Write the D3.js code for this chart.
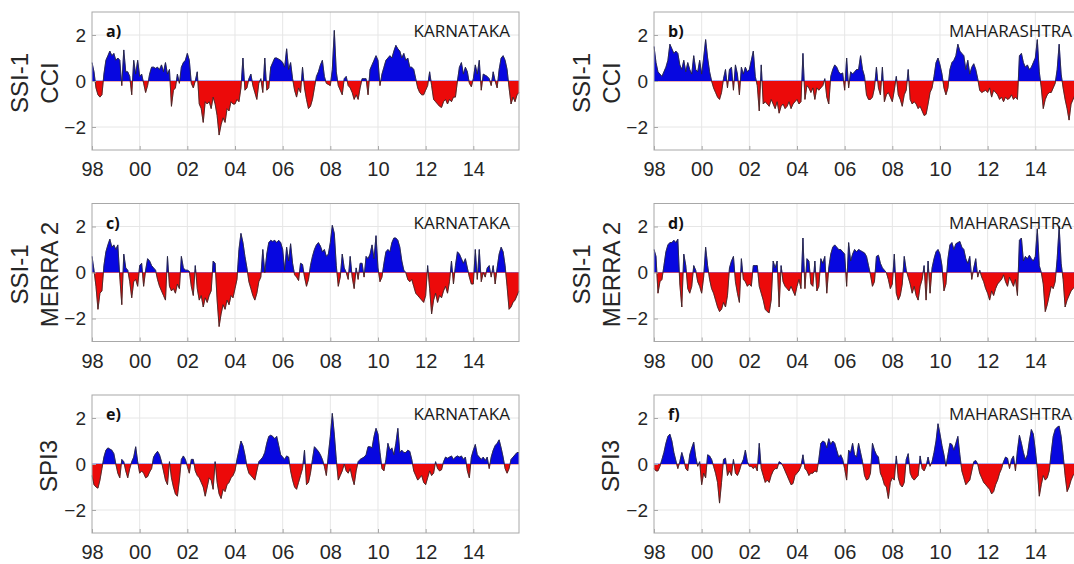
<!DOCTYPE html>
<html>
<head>
<meta charset="utf-8">
<script src="https://cdn.jsdelivr.net/npm/d3@7/dist/d3.min.js"></script>
<style>
  body { margin: 0; background: #fff; overflow: hidden; }
  svg { display: block; }
</style>
</head>
<body>
<svg id="chart" width="1074" height="564"></svg>
<script>
// Monthly drought indices, Jan 1998 – Dec 2015 (12 values per row = one year)
const startYear = 1998;
const xTickYears = [1998, 2000, 2002, 2004, 2006, 2008, 2010, 2012, 2014];
const xTickLabels = ["98", "00", "02", "04", "06", "08", "10", "12", "14"];
const yTicks = [-2, 0, 2];
const yTickLabels = ["\u22122", "0", "2"];
const regions = ["KARNATAKA", "MAHARASHTRA"];
const panelLetters = ["a)", "b)", "c)", "d)", "e)", "f)"];
const indexLabels = [["SSI-1", "CCI"], ["SSI-1", "MERRA 2"], ["SPI3"]];

const ssiCciKarnataka = [
  0.8, 0.4, -0.3, -0.6, -0.7, -0.6, 0.3, 0.9, 1.1, 1.3, 1.1, 1.2,
  0.9, 1.0, 0.9, -0.2, 1.35, 0.4, 0.4, 0.2, -0.6, 0.9, 0.3, 0.9,
  0.2, 0.3, -0.1, -0.5, -0.2, 0.3, 0.6, 0.6, 0.55, 0.6, 0.5, 0.7,
  0.4, 0.8, 0.3, 0.5, -1.1, -0.4, -0.3, 0.3, -0.1, 0.6, 0.8, 0.9,
  1.2, 0.9, -0.1, -0.3, 0.0, 0.4, -1.0, -1.2, -1.8, -0.9, -1.0, -0.9,
  -1.2, -0.7, -1.0, -1.5, -2.35, -1.9, -1.6, -1.8, -1.2, -1.3, -0.9, -1.0,
  -1.0, -0.8, -0.9, -0.3, 1.0, -0.4, -0.3, 0.1, 0.3, -0.2, -0.5, -0.8,
  -0.1, 0.1, -0.5, 1.0, -0.4, -0.3, 0.6, 0.8, 1.0, 1.0, 0.95, 0.9,
  0.8, 0.6, 1.4, 0.5, 0.8, 0.1, -0.4, -0.7, -0.3, -0.5, 0.6, -0.3,
  -0.8, -1.2, -1.1, -0.8, -0.3, 0.2, 0.4, 0.7, 0.9, 0.2, -0.1, -0.15,
  -0.2, 0.5, 2.2, 0.4, -0.2, -0.4, -0.6, 0.1, 0.2, -0.2, -0.3, -0.5,
  -0.8, -0.6, -0.8, -0.3, 0.1, 0.1, 0.1, -0.6, 0.5, 0.7, 0.9, 1.1,
  0.9, -0.2, 0.3, 0.6, 0.9, 1.0, 1.1, 1.0, 1.3, 1.55, 1.4, 1.3,
  1.0, 1.2, 0.9, 1.0, 0.6, 0.6, 0.5, 0.1, -0.3, -0.5, -0.6, -0.6,
  -0.4, -0.2, 0.4, -0.2, -0.8, -0.9, -1.0, -1.1, -1.15, -0.9, -0.8, -1.0,
  -0.8, -0.9, -0.7, -0.7, 0.0, 0.6, 0.8, 0.3, 0.6, 0.4, -0.1, -0.25,
  0.1, 0.7, 0.3, 0.9, -0.4, 0.3, 0.25, 0.2, 0.1, -0.2, 0.4, 0.0,
  -0.3, 0.5, 1.0, 1.1, 0.9, 0.5, -0.3, -1.0, -0.7, -0.9, -0.6, -0.5
];

const ssiCciMaharashtra = [
  1.5, 0.8, 0.4, 0.3, 0.2, 0.4, 0.6, 0.9, 1.6, 1.4, 1.2, 1.3,
  1.2, 0.7, 0.5, 0.9, 0.4, 0.8, 0.5, 0.3, 1.1, 0.5, 0.4, 0.9,
  0.3, 1.0, 1.8, 1.0, 0.4, 0.0, -0.3, -0.5, -0.7, -0.8, -0.5, 0.1,
  0.5, -0.3, 0.5, 0.6, -0.4, 0.7, 0.3, -0.6, 0.6, 0.3, 0.6, 0.4,
  0.5, 0.9, 1.3, 0.2, -0.2, -1.3, 0.7, -1.0, -0.9, -1.0, -1.1, -0.8,
  -1.0, -1.2, -0.9, -1.4, -1.1, -1.0, -1.2, -1.1, -0.9, -1.2, -1.0, -0.9,
  -0.8, -1.0, -0.9, 1.2, -0.8, -0.2, -0.3, -0.5, -0.3, -0.8, -0.3, -0.4,
  -0.3, -0.2, 0.1, -0.7, -1.0, 0.2, 0.5, 0.7, 0.6, 0.4, 0.3, 0.35,
  -0.4, 1.0, -0.3, 0.4, 0.3, 0.4, 0.5, 0.5, 1.1, 0.5, 0.2, -0.6,
  -0.8, -0.8, -0.7, -0.3, 0.6, -0.3, -0.6, 0.6, -0.9, -0.6, -0.5, -0.7,
  -0.9, -0.4, 0.2, -0.6, -0.8, -1.1, -0.6, -0.4, 0.5, -0.8, -1.0, -0.9,
  -1.0, -1.2, -1.1, -1.3, -1.5, -1.45, -1.0, -0.5, -0.3, 0.2, 0.8, 1.0,
  0.7, 0.3, -0.3, -0.6, -0.3, 0.5, 0.8, 0.9, 1.1, 1.6, 1.3, 1.2,
  1.1, 0.5, 0.9, 0.3, 0.6, 0.75, 0.5, 0.1, -0.4, -0.5, -0.45, -0.4,
  -0.5, -0.3, -0.7, -0.4, -0.5, -0.6, -0.8, -0.7, -0.9, -0.7, -0.8, -0.75,
  -0.6, -0.8, -0.7, -0.8, 1.1, 1.2, 0.8, 0.6, 0.7, 0.5, 0.6, 0.8,
  1.0, 1.8, 0.4, -0.3, -1.2, -0.8, -0.6, -0.5, -0.5, -0.3, -0.1, 0.5,
  1.6, 0.3, -0.3, -0.8, -1.2, -1.7, -1.0, -0.8, -0.6, -0.5, -0.4, -0.3
];

const ssiMerraKarnataka = [
  0.7, 0.1, -0.6, -1.6, -0.9, -0.8, 0.3, 0.9, 1.2, 1.45, 1.1, 1.2,
  1.0, 1.2, -0.2, -1.4, 0.8, 0.2, 0.1, -0.4, -1.1, -0.4, -0.3, -0.6,
  0.3, 0.4, -0.6, 0.1, 0.6, 0.5, 0.3, 0.2, 0.1, -0.3, -0.6, -0.8,
  -1.0, -1.2, 0.7, -0.6, -0.8, -0.7, -0.9, -0.5, -0.7, 0.7, 0.2, 0.1,
  0.1, 0.05, -0.6, -1.0, 0.3, -0.7, -1.2, -1.0, -1.5, -1.1, -1.3, -1.0,
  -0.8, 0.5, 0.4, -1.2, -2.35, -1.8, -1.4, -1.6, -1.2, -1.4, -1.0, -1.1,
  -0.7, -0.3, 1.0, 1.7, 1.3, 0.7, 0.2, -0.4, -0.7, -1.0, -1.2, -0.9,
  -0.4, -0.2, 1.0, 0.0, 0.8, 1.3, 1.4, 1.35, 1.4, 1.3, 1.4, 1.3,
  1.0, 0.1, 1.1, 0.5, 1.25, 0.4, -0.1, -0.2, -0.35, 0.4, 0.35, -0.2,
  -0.6, -0.3, 0.3, 0.7, 1.0, 1.2, 1.3, 1.15, 0.9, 1.0, 0.7, 0.8,
  1.3, 2.05, 1.7, 0.3, -0.6, -0.2, 0.8, 0.2, 0.0, -0.3, 0.7, -0.2,
  -0.7, 0.2, -0.3, 0.4, 0.4, -0.2, 0.7, 0.6, 0.8, 1.2, 0.6, 1.6,
  0.2, -0.4, -0.2, 0.4, 0.9, 1.0, 0.9, 1.3, 1.5, 1.5, 1.4, 1.1,
  0.5, 0.1, 0.0, -0.3, -0.4, -0.3, -0.6, -0.9, -1.0, -1.1, -1.2, -1.3,
  -1.0, 0.3, -0.7, -1.8, -1.2, -0.9, -1.3, -1.0, -1.1, -0.8, -0.6, -0.9,
  -0.4, 0.5, -0.5, 0.3, 0.9, 0.8, 0.6, 0.4, 0.6, 0.2, -0.2, -0.5,
  -0.5, 1.0, -0.3, 1.0, -0.4, 0.0, -0.2, 0.2, 0.3, -0.2, 0.3, -0.5,
  0.2, 0.8, 1.1, 0.9, 0.3, -0.6, -1.6, -1.5, -1.3, -1.2, -1.0, -0.8
];

const ssiMerraMaharashtra = [
  1.0, 0.7, -0.9, -0.4, -0.3, 0.3, 0.9, 1.2, 1.3, 1.3, 1.4, 1.3,
  1.45, -0.5, -1.5, 0.8, 0.3, -0.7, -0.9, -0.6, 0.3, 0.1, -0.4, -0.6,
  -0.9, -0.2, 1.1, 0.3, -0.3, -0.7, -0.9, -1.2, -1.5, -1.7, -1.6, -1.3,
  -1.5, -1.0, 0.2, 0.5, 0.7, -0.4, -0.9, -1.3, 0.6, -0.3, -0.4, -0.6,
  -0.5, -0.6, 0.3, 0.3, 0.3, -0.6, -0.9, -1.2, -1.6, -1.7, -1.75, -1.2,
  0.5, 0.2, 0.5, -1.5, 0.3, -0.4, -0.6, -0.7, -0.8, -0.6, -0.8, -1.0,
  -0.6, -0.3, -0.7, 1.5, -0.7, 0.6, 0.5, -0.5, -0.6, 0.5, -0.8, -0.6,
  0.6, 0.4, 0.7, -0.9, 0.2, 0.8, 1.1, 1.2, 1.1, 1.0, 1.0, 0.9,
  0.8, -0.6, 1.3, 0.5, 0.8, 1.0, 0.9, 1.0, 0.95, 0.9, 0.85, 0.7,
  0.3, -0.1, -0.6, -0.4, 0.7, 0.75, 0.4, 0.2, 0.1, 0.0, -0.3, -0.7,
  -0.5, 0.8, -0.9, -1.2, -1.0, -0.5, 0.7, 0.1, -0.2, -0.5, -0.9, -0.6,
  -1.0, -1.2, -0.6, -0.3, 0.3, -1.2, 0.5, -0.9, 0.2, 0.6, 0.9, 1.0,
  0.8, 0.3, -0.8, -0.5, 0.6, 1.2, 1.3, 1.0, 1.25, 1.3, 1.35, 1.1,
  1.0, 0.6, 0.4, 0.7, -0.3, 0.2, 0.6, -0.2, 0.1, -0.2, -0.4, -0.7,
  -0.9, -1.2, -0.8, -1.0, -0.7, -0.5, -0.4, -0.3, -0.1, -0.4, -0.6, -0.2,
  -0.4, -0.6, -0.3, -1.0, 1.4, 1.5, 0.5, 0.7, 0.6, 0.75, 0.6, 0.5,
  0.7, 1.9, 0.3, 0.0, -0.5, -1.7, -1.4, -1.0, -0.6, -0.7, -0.4, 0.6,
  2.0, 0.4, -0.3, -1.5, -1.2, -1.0, -0.8, -0.7, -0.6, -0.5, -0.4, -0.3
];

const spi3Karnataka = [
  -0.5, -0.9, -1.0, -1.05, -0.7, -0.2, 0.3, 0.6, 0.7, 0.65, 0.6, 0.45,
  0.0, -0.4, -0.6, 0.2, 0.1, -0.3, -0.6, -0.2, 0.1, 0.3, 0.75, 0.1,
  -0.4, -0.3, -0.4, -0.6, -0.55, -0.35, -0.2, 0.3, 0.45, 0.55, 0.4, 0.1,
  -0.3, -0.7, -0.9, 0.1, -0.6, -1.0, -1.3, -1.4, -0.7, 0.2, 0.35, 0.2,
  -0.1, -0.4, 0.2, 0.2, -0.3, -0.5, -0.6, -0.8, -1.0, -1.4, -1.0, -0.6,
  -0.7, -1.1, 0.1, -0.8, -1.3, -1.5, -1.1, -1.2, -0.9, -0.8, -0.6, -0.5,
  -0.3, 0.2, 0.6, 1.0, 0.8, 0.4, -0.1, -0.4, -0.5, -0.6, -0.7, -0.3,
  0.1, 0.2, 0.3, 0.5, 0.9, 1.2, 1.25, 1.2, 1.1, 1.2, 0.8, 0.4,
  0.3, 0.2, 0.35, 0.3, -0.3, -0.7, -1.0, -1.1, -0.8, -0.5, -0.2, 0.6,
  -0.9, -0.8, -0.4, 0.2, 0.75, 0.65, 0.55, 0.4, 0.2, -0.1, -0.5, 0.4,
  1.2, 2.2, 1.3, 0.2, -0.7, -0.5, -0.3, 0.0, -0.3, -0.4, -0.2, -0.6,
  -0.9, -0.3, 0.1, 0.2, 0.25, 0.3, 0.4, 0.75, 0.75, 0.7, 1.2, 1.55,
  1.3, 0.5, -0.2, -0.3, 0.2, 0.9, 0.6, 0.7, 0.4, 0.9, 1.55, 0.5,
  0.6, 0.5, 0.5, 0.6, 0.55, 0.2, -0.3, -0.5, -0.7, -0.6, -0.5, -0.8,
  -0.9, -0.6, -0.3, -0.5, -0.4, 0.1, -0.2, -0.3, -0.25, 0.1, 0.3, 0.25,
  0.3, 0.35, 0.2, 0.3, 0.35, 0.3, 0.35, 0.2, 0.3, -0.3, -0.6, 0.3,
  0.6, 0.85, 0.4, 0.3, 0.2, 0.3, 0.15, 0.3, -0.2, 0.3, 0.6, 0.8,
  0.9, 1.05, 0.7, 0.3, -0.2, -0.4, -0.2, 0.2, 0.3, 0.4, 0.5, 0.5
];

const spi3Maharashtra = [
  -0.2, -0.3, -0.3, -0.1, 0.2, 0.5, 0.9, 1.2, 1.3, 1.0, 0.5, 0.15,
  -0.2, 0.1, 0.5, 0.2, -0.2, -0.3, 0.4, 0.7, 0.95, 0.3, -0.1, 0.1,
  -0.9, -0.4, -0.6, 0.4, 0.35, 0.2, -0.1, -0.4, -0.8, -1.7, -0.8, 0.2,
  0.25, -0.5, -0.3, -0.5, 0.2, -0.4, -0.5, -0.3, 0.0, 0.2, 0.6, 0.1,
  -0.1, -0.1, -0.2, -0.1, -0.3, 0.9, -0.2, -0.5, -0.8, -0.7, -0.8, -0.5,
  -0.3, -0.2, -0.2, 0.1, 0.05, -0.1, -0.3, -0.5, -0.7, -0.9, -0.85, -0.5,
  -0.4, -0.3, -0.1, 0.4, -0.2, -0.3, -0.5, -0.4, -0.4, -0.3, -0.35, 0.2,
  0.9, 1.0, 0.95, 0.7, 1.1, 0.85, 1.0, 0.9, 0.6, 0.3, 0.4, 0.2,
  -0.2, -0.7, 0.6, 0.5, 0.9, 0.4, 0.3, 0.9, 0.5, 0.1, -0.5, -0.7,
  -0.65, -0.4, 0.9, 0.6, 0.4, 0.3, -0.4, -0.6, -0.9, -1.0, -1.5, -0.8,
  -0.6, -0.7, 0.35, -0.6, -0.9, -1.0, -0.8, 0.2, 0.45, -0.4, -0.6, -0.7,
  -0.6, -0.5, 0.35, -0.2, -0.3, -0.1, 0.3, -0.1, 0.1, 0.5, 1.0, 1.75,
  1.3, 0.8, 0.4, -0.1, 0.4, 0.9, 0.85, 0.6, 0.9, 1.2, 0.4, -0.3,
  -0.6, -0.9, -0.8, -0.7, -0.3, 0.1, 0.15, 0.0, -0.4, -0.6, -0.8, -0.9,
  -1.0, -1.1, -1.3, -1.2, -0.9, -0.7, -0.4, -0.2, 0.1, 0.3, 0.25, -0.2,
  0.2, 0.35, -0.3, 0.6, 1.25, 0.9, 0.5, 0.2, 0.4, 1.0, 1.5, 1.3,
  0.6, -0.2, -1.4, -0.9, -0.5, -0.7, -0.6, -0.3, 0.5, 1.2, 1.5, 1.6,
  1.65, 1.2, 0.4, -0.5, -1.2, -1.0, -0.7, -0.5, -0.4, -0.3, -0.2, -0.2
];

// ---- layout ----
const colLeft = [92, 654];
const rowTop = [12, 203.5, 395];
const plotW = 427, plotH = 138;

const panels = [
  { values: ssiCciKarnataka,     row: 0, col: 0 },
  { values: ssiCciMaharashtra,   row: 0, col: 1 },
  { values: ssiMerraKarnataka,   row: 1, col: 0 },
  { values: ssiMerraMaharashtra, row: 1, col: 1 },
  { values: spi3Karnataka,       row: 2, col: 0 },
  { values: spi3Maharashtra,     row: 2, col: 1 }
];

const svg = d3.select("#chart");
const tickFont = "'Liberation Sans', Arial, Helvetica, sans-serif";
const tagFont = "'Open Sans', 'Noto Sans', sans-serif";
const axisColor = "#a8a8a8";
const textColor = "#262626";
const posColor = "#0707e0";
const negColor = "#ec0a0a";

const x = d3.scaleLinear()
  .domain([startYear, startYear + 215 / 12])
  .range([0, plotW]);
const y = d3.scaleLinear().domain([-3, 3]).range([plotH, 0]);
const monthTime = i => startYear + i / 12;

panels.forEach((p, k) => {
  const g = svg.append("g")
    .attr("transform", `translate(${colLeft[p.col]},${rowTop[p.row]})`);

  // grid
  g.append("g").selectAll("line").data(xTickYears.slice(1)).join("line")
    .attr("x1", d => x(d)).attr("x2", d => x(d))
    .attr("y1", 0).attr("y2", plotH)
    .attr("stroke", "#e6e6e6").attr("stroke-width", 1);
  g.append("g").selectAll("line").data(yTicks).join("line")
    .attr("x1", 0).attr("x2", plotW)
    .attr("y1", d => y(d)).attr("y2", d => y(d))
    .attr("stroke", "#e6e6e6").attr("stroke-width", 1);

  // clip regions: above and below zero
  const above = `clipA${k}`, below = `clipB${k}`;
  const defs = g.append("defs");
  defs.append("clipPath").attr("id", above).append("rect")
    .attr("x", 0).attr("y", 0).attr("width", plotW).attr("height", y(0));
  defs.append("clipPath").attr("id", below).append("rect")
    .attr("x", 0).attr("y", y(0)).attr("width", plotW).attr("height", plotH - y(0));

  const area = d3.area()
    .x((d, i) => x(monthTime(i)))
    .y0(y(0))
    .y1(d => y(d));
  const line = d3.line()
    .x((d, i) => x(monthTime(i)))
    .y(d => y(d));

  g.append("path").datum(p.values)
    .attr("clip-path", `url(#${above})`)
    .attr("d", area).attr("fill", posColor)
    .attr("stroke", posColor).attr("stroke-width", 0.6);
  g.append("path").datum(p.values)
    .attr("clip-path", `url(#${below})`)
    .attr("d", area).attr("fill", negColor)
    .attr("stroke", negColor).attr("stroke-width", 0.6);
  g.append("path").datum(p.values)
    .attr("d", line).attr("fill", "none")
    .attr("stroke", "#2a2a2a").attr("stroke-width", 0.8)
    .attr("stroke-linejoin", "round");

  // axes box
  g.append("rect").attr("x", 0).attr("y", 0)
    .attr("width", plotW).attr("height", plotH)
    .attr("fill", "none").attr("stroke", axisColor).attr("stroke-width", 1);

  // bottom axis (ticks pointing inward)
  const xAxis = d3.axisBottom(x)
    .tickValues(xTickYears)
    .tickFormat((d, i) => xTickLabels[i])
    .tickSizeInner(-4).tickSizeOuter(0).tickPadding(12);
  const gx = g.append("g").attr("transform", `translate(0,${plotH})`).call(xAxis);
  gx.select(".domain").remove();
  gx.selectAll("line").attr("stroke", axisColor);
  gx.selectAll("text")
    .attr("font-family", tickFont).attr("font-size", 20)
    .attr("fill", textColor);

  // left axis
  const yAxis = d3.axisLeft(y)
    .tickValues(yTicks)
    .tickFormat((d, i) => yTickLabels[i])
    .tickSizeInner(-4).tickSizeOuter(0).tickPadding(6);
  const gy = g.append("g").call(yAxis);
  gy.select(".domain").remove();
  gy.selectAll("line").attr("stroke", axisColor);
  gy.selectAll("text")
    .attr("font-family", tickFont).attr("font-size", 19)
    .attr("fill", textColor);

  // index label (rotated, one or two lines)
  const lines = indexLabels[p.row];
  const cy = plotH / 2 + 2;
  const xs = lines.length === 2 ? [-72, -42] : [-43];
  lines.forEach((t, j) => {
    g.append("text")
      .attr("transform", `translate(${xs[j] + 8},${cy}) rotate(-90)`)
      .attr("text-anchor", "middle")
      .attr("font-family", tickFont).attr("font-size", 24)
      .attr("fill", textColor)
      .text(t);
  });

  // panel letter and region name
  g.append("text")
    .attr("x", 14).attr("y", 25)
    .attr("font-family", tagFont).attr("font-weight", "bold")
    .attr("font-size", 16).attr("fill", "#111")
    .text(panelLetters[k]);
  g.append("text")
    .attr("x", plotW - 9).attr("y", 25)
    .attr("text-anchor", "end")
    .attr("font-family", tagFont).attr("font-size", 17)
    .attr("fill", "#1a1a1a")
    .text(regions[p.col]);
});
</script>
</body>
</html>
